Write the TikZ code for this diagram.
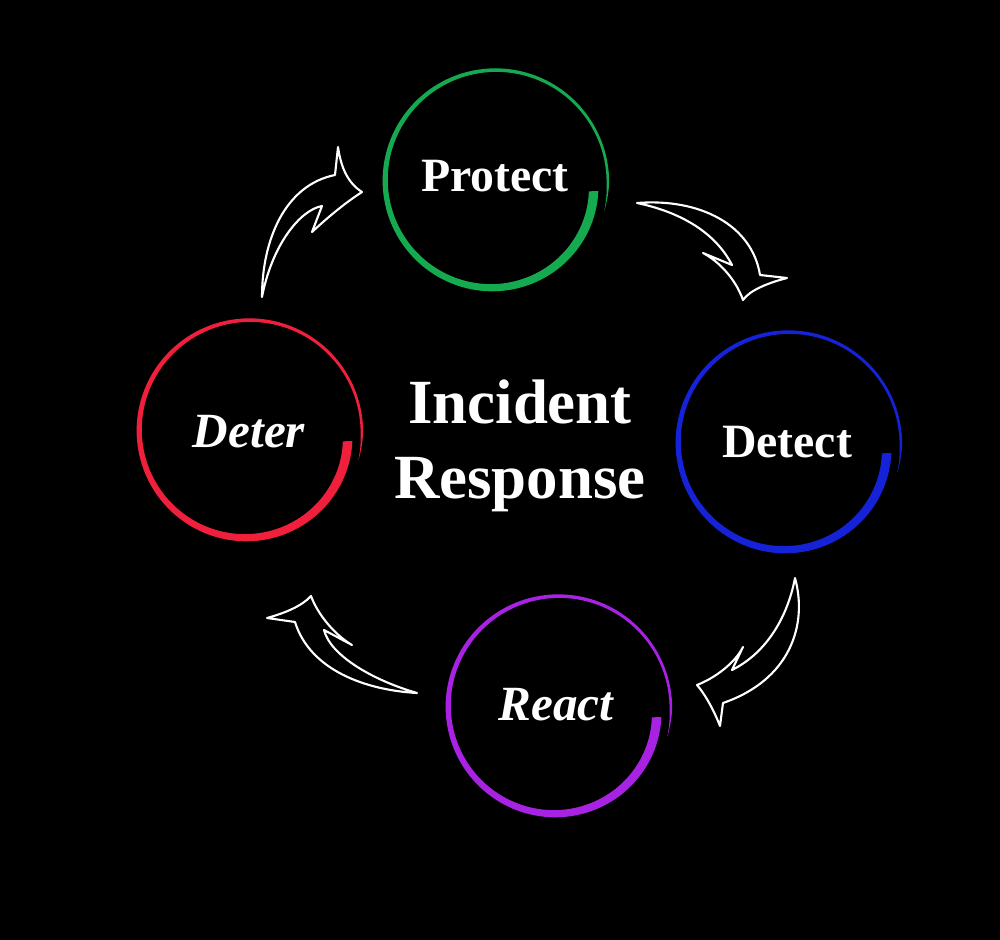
\documentclass[tikz,border=0pt]{standalone}
\usepackage{fontspec}
\setmainfont{Liberation Serif}
\definecolor{ringgreen}{RGB}{22,170,80}
\definecolor{ringblue}{RGB}{22,34,215}
\definecolor{ringpurple}{RGB}{168,34,228}
\definecolor{ringred}{RGB}{240,32,60}
\tikzset{
  declare function = {ringr(\t)=110-11*(1-\t)*(1-\t)*(1-\t)+3*\t;
                      ringw(\t)=(2.5+7*(1-\t)*sqrt(1-\t))*min(1,25*(1-\t));},
  stage/.style   = {text=white, inner sep=0pt, anchor=base,
                    font=\fontsize{13.6}{16}\selectfont\bfseries},
  stageit/.style = {stage, font=\fontsize{14}{16}\selectfont\bfseries\itshape},
  heading/.style = {text=white, inner sep=0pt, align=center,
                    font=\fontsize{17.9}{21.3}\selectfont\bfseries},
  swoosh/.style  = {draw=white, fill=black, line width=0.6pt, line join=round},
}

\begin{document}
\begin{tikzpicture}[x=0.1mm, y=-0.1mm]
  \fill[black] (0,0) rectangle (1000,940);
  \useasboundingbox (0,0) rectangle (1000,940);

  \foreach \cx/\cy/\col in {495/182/ringgreen, 788/444/ringblue,
                            558/708/ringpurple, 249/432/ringred} {
    \fill[\col] plot[domain=0:0.999, samples=160]
        ({\cx+(ringr(\x)+ringw(\x)/2)*cos(5+370*\x)},
         {\cy+(ringr(\x)+ringw(\x)/2)*sin(5+370*\x)})
      -- plot[domain=0.999:0, samples=160]
        ({\cx+(ringr(\x)-ringw(\x)/2)*cos(5+370*\x)},
         {\cy+(ringr(\x)-ringw(\x)/2)*sin(5+370*\x)})
      -- cycle;
  }

  \node[stage]   (protect) at (495,191) {Protect};
  \node[stage]   (detect)  at (787,457) {Detect};
  \node[stageit] (react)   at (556,720) {React};
  \node[stageit] (deter)   at (249,447) {Deter};
  \node[heading] (title)   at (520,446) {Incident\\Response};

  % deter -> protect
  \draw[swoosh] (262,297) .. controls (262,240) and (285,185) .. (335,175)
    -- (338,147)
    .. controls (341,168) and (348,183) .. (362,192)
    .. controls (342,205) and (325,220) .. (312,232)
    -- (322,206)
    .. controls (300,210) and (272,245) .. cycle;
  % protect -> detect
  \draw[swoosh] (637,203) .. controls (700,198) and (752,225) .. (760,275)
    -- (787,278)
    .. controls (768,283) and (750,290) .. (743,300)
    .. controls (736,280) and (720,262) .. (703,253)
    -- (732,265)
    .. controls (715,232) and (680,212) .. cycle;
  % detect -> react
  \draw[swoosh] (795,578) .. controls (808,625) and (790,680) .. (723,703)
    -- (720,726)
    .. controls (713,708) and (704,693) .. (697,685)
    .. controls (715,678) and (735,663) .. (743,647)
    -- (732,670)
    .. controls (768,652) and (788,615) .. cycle;
  % react -> deter
  \draw[swoosh] (417,693) .. controls (365,690) and (310,670) .. (295,622)
    -- (267,618)
    .. controls (285,613) and (302,606) .. (311,596)
    .. controls (318,615) and (335,635) .. (352,645)
    -- (324,630)
    .. controls (330,655) and (372,680) .. cycle;
\end{tikzpicture}
\end{document}
